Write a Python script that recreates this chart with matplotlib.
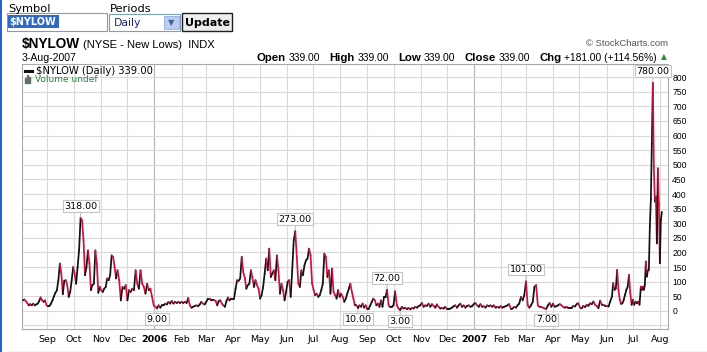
import numpy as np
import pandas as pd
import matplotlib
matplotlib.use('Agg')
import matplotlib.pyplot as plt
import matplotlib.dates as mdates
from matplotlib.collections import LineCollection
from matplotlib.patches import Rectangle

W, H = 707, 352

# $NYLOW daily closes
seg_dates = ['2005-08-04', '2005-11-20', '2006-03-05', '2006-06-16', '2006-09-27',
             '2007-01-08', '2007-04-22', '2007-06-07', '2007-07-10', '2007-08-03']
aug05 = [36, 39, 33, 27, 19, 23, 19, 25, 19, 22, 25, 33, 46, 36, 31, 36, 19, 16, 17, 25,
         36, 50, 62, 71, 105, 162, 128, 57, 103, 105, 88, 48, 65, 105, 150, 128, 93, 150, 207, 318,
         310, 242, 122, 150, 207, 162, 71, 88, 93, 207, 162, 62, 82, 71, 65, 76, 82, 111, 105, 122,
         190, 185, 150, 111]
nov05 = [139, 105, 36, 82, 76, 88, 36, 71, 65, 76, 71, 139, 93, 76, 139, 93, 82, 59, 93, 71,
         76, 48, 19, 14, 9, 19, 11, 19, 19, 25, 22, 31, 25, 34, 25, 31, 27, 31, 27, 31,
         27, 31, 27, 44, 19, 11, 14, 17, 19, 16, 22, 31, 25, 22, 31, 42]
mar06 = [42, 36, 36, 36, 34, 19, 34, 36, 25, 19, 14, 33, 46, 36, 42, 42, 42, 76, 105, 103,
         111, 185, 133, 114, 76, 88, 93, 139, 114, 82, 105, 88, 76, 42, 54, 82, 128, 179, 139, 213,
         116, 128, 139, 105, 190, 139, 59, 93, 71, 36, 65, 99, 105, 48, 139, 242, 273, 185, 93]
jun06 = [82, 139, 122, 156, 173, 179, 213, 190, 93, 71, 54, 59, 48, 54, 71, 93, 196, 185, 116, 139,
         59, 145, 65, 54, 42, 71, 48, 59, 48, 31, 42, 59, 76, 93, 65, 42, 19, 19, 10, 19,
         14, 25, 11, 19, 8, 8, 19, 31, 42, 36, 19, 25, 14, 36, 14, 48, 48, 72, 19]
sep06 = [14, 14, 19, 67, 19, 8, 3, 14, 8, 11, 6, 10, 5, 10, 8, 14, 11, 16, 19, 27,
         14, 19, 17, 25, 14, 23, 17, 11, 22, 14, 8, 10, 8, 14, 6, 6, 8, 11, 16, 19,
         11, 19, 25, 14, 19, 11, 17, 19, 14, 16, 23, 27, 19, 14]
jan07 = [23, 14, 16, 11, 19, 16, 19, 14, 19, 11, 14, 11, 16, 11, 14, 16, 19, 23, 8, 8,
         14, 11, 19, 25, 48, 36, 54, 101, 19, 11, 19, 31, 82, 88, 19, 14, 14, 11, 8, 7,
         19, 27, 14, 25, 14, 16, 19, 23, 19, 14, 11, 14, 11, 11]
apr07 = [11, 17, 15, 23, 26, 11, 9, 17, 13, 21, 17, 26, 23, 32, 21, 17, 9, 35, 21, 21,
         17, 17, 15, 32]
jun07 = [49, 95, 72, 77, 140, 72, 38, 24, 26, 38, 55, 72, 83, 123, 60, 21, 38, 21, 32, 26,
         32, 21]
jul07 = [83, 72, 83, 72, 89, 169, 117, 138, 140, 288, 380, 573, 780, 493, 374, 391, 231, 488,
         368, 163, 311, 339]

peak_labels = [318, 273, 72, 101, 780]
low_labels = [9, 10, 3, 7]

month_names = ['Jan', 'Feb', 'Mar', 'Apr', 'May', 'Jun', 'Jul', 'Aug', 'Sep', 'Oct', 'Nov', 'Dec']

segs = [aug05, nov05, mar06, jun06, sep06, jan07, apr07, jun07, jul07]
dates, vals = [], []
for i, s in enumerate(segs):
    last = i == len(segs) - 1
    d = pd.date_range(seg_dates[i], seg_dates[i + 1], periods=len(s) + (0 if last else 1))
    if not last:
        d = d[:-1]
    dates.extend(d)
    vals.extend(s)
x = mdates.date2num(pd.DatetimeIndex(dates).to_pydatetime())
vals = np.array(vals, dtype=float)

fig = plt.figure(figsize=(W / 100, H / 100), dpi=100)
fig.patch.set_facecolor('white')

def fx(px):
    return px / W

def fy(py):
    return 1 - py / H

ax = fig.add_axes([fx(22), fy(329), fx(668) - fx(22), fy(64) - fy(329)])
ax.set_ylim(-62, 845)
ax.set_xlim(mdates.datestr2num('2005-08-03'), mdates.datestr2num('2007-08-10'))

# grid
month_ticks = pd.date_range('2005-09-01', '2007-08-01', freq='MS')
for m in month_ticks:
    c = '#b4b4b4' if m.month == 1 else '#dadada'
    ax.axvline(mdates.date2num(m.to_pydatetime()), color=c, lw=0.8, zorder=0)
for v in range(-50, 801, 50):
    ax.axhline(v, color='#dadada', lw=0.8, zorder=0)

# price line, black when up, red when down
pts = np.column_stack([x, vals])
lines = np.stack([pts[:-1], pts[1:]], axis=1)
cols = ['#111111' if vals[i + 1] >= vals[i] else '#d01040' for i in range(len(vals) - 1)]
ax.add_collection(LineCollection(lines, colors=cols, linewidths=1.25, zorder=3,
                                 capstyle='round', joinstyle='round'))

# labels on highs and lows
box = dict(boxstyle='square,pad=0.15', fc='white', ec='#c4c4c4', lw=0.8)
for v in peak_labels:
    i = list(vals).index(v)
    ax.annotate('%.2f' % v, (x[i], vals[i]), xytext=(0, 8.5), textcoords='offset points',
                ha='center', va='center', fontsize=6.8, bbox=box, zorder=5,
                arrowprops=dict(arrowstyle='-', color='#c4c4c4', lw=0.8, shrinkA=0, shrinkB=1))
for v in low_labels:
    i = list(vals).index(v)
    ax.annotate('%.2f' % v, (x[i], vals[i]), xytext=(0, -8), textcoords='offset points',
                ha='center', va='center', fontsize=6.8, bbox=box, zorder=5,
                arrowprops=dict(arrowstyle='-', color='#c4c4c4', lw=0.8, shrinkA=0, shrinkB=1))

# axes
ax.set_xticks(mdates.date2num(month_ticks.to_pydatetime()))
ax.set_xticklabels([str(m.year) if m.month == 1 else month_names[m.month - 1] for m in month_ticks],
                   fontsize=6.8)
for lab, m in zip(ax.get_xticklabels(), month_ticks):
    if m.month == 1:
        lab.set_fontweight('bold')
ax.yaxis.tick_right()
ax.set_yticks(range(0, 801, 50))
ax.set_yticklabels([str(v) for v in range(0, 801, 50)], family='Liberation Sans', fontsize=6.2)
ax.tick_params(length=0)
ax.tick_params(axis='x', pad=4)
ax.tick_params(axis='y', pad=3)
for sp in ax.spines.values():
    sp.set_color('#a8a8a8')
    sp.set_linewidth(0.8)

# legend inside plot
ax.plot([0.005, 0.016], [0.975, 0.975], transform=ax.transAxes, color='#111111', lw=2.2, zorder=6)
ax.text(0.022, 0.975, '$NYLOW (Daily) 339.00', transform=ax.transAxes, fontsize=7.2,
        va='center', ha='left', zorder=6)
for j, hgt in enumerate([0.018, 0.03, 0.022]):
    ax.add_patch(Rectangle((0.005 + j * 0.003, 0.928), 0.002, hgt, transform=ax.transAxes,
                           color='#607060', zorder=6))
ax.text(0.02, 0.94, 'Volume undef', transform=ax.transAxes, fontsize=6.5, color='#1a8a3a',
        va='center', ha='left', zorder=6)

# page header: form controls
fig.text(fx(8), fy(9), 'Symbol', fontsize=8.2, va='center', ha='left')
fig.text(fx(110), fy(9), 'Periods', fontsize=8.2, va='center', ha='left')
fig.add_artist(Rectangle((fx(7), fy(31)), fx(100), fy(13) - fy(31), transform=fig.transFigure,
                         fc='white', ec='#7f9db9', lw=0.8))
fig.add_artist(Rectangle((fx(8), fy(28)), fx(51), fy(15) - fy(28), transform=fig.transFigure,
                         fc='#316ac5', ec='none'))
fig.text(fx(9), fy(22), '$NYLOW', fontsize=7.0, fontweight='bold', color='white', va='center')
fig.add_artist(Rectangle((fx(109), fy(31)), fx(71), fy(14) - fy(31), transform=fig.transFigure,
                         fc='white', ec='#7f9db9', lw=0.8))
fig.text(fx(114), fy(23), 'Daily', fontsize=7.8, color='#1a2a6a', va='center')
fig.add_artist(Rectangle((fx(164), fy(29)), fx(15), fy(16) - fy(29), transform=fig.transFigure,
                         fc='#b8ccf4', ec='#98b0e0', lw=0.6))
fig.text(fx(171.5), fy(22.5), '\u25bc', fontsize=6, color='#4d6185', ha='center', va='center')
fig.add_artist(Rectangle((fx(182), fy(31)), fx(50), fy(13) - fy(31), transform=fig.transFigure,
                         fc='#eeeeee', ec='#202020', lw=1.0))
fig.text(fx(207), fy(22.5), 'Update', fontsize=8, fontweight='bold', ha='center', va='center')

# title lines
t1 = fig.text(fx(22), fy(44), '$NYLOW', family='Liberation Sans', fontsize=9.8,
              fontweight='bold', va='center')
fig.canvas.draw()
r = fig.canvas.get_renderer()
w1 = t1.get_window_extent(r).width
fig.text(fx(22 + w1 + 3), fy(44.5), '(NYSE - New Lows)  INDX', family='Liberation Sans',
         fontsize=8, va='center')
fig.text(fx(22), fy(58), '3-Aug-2007', family='Liberation Sans', fontsize=7.6, va='center')
fig.text(fx(668), fy(44), '\u00a9 StockCharts.com', family='Liberation Sans', fontsize=6.8,
         color='#555555', ha='right', va='center')

pieces = [('Open', True), ('339.00', False), ('High', True), ('339.00', False),
          ('Low', True), ('339.00', False), ('Close', True), ('339.00', False),
          ('Chg', True), ('+181.00 (+114.56%)', False)]
gaps = [3, 9, 3, 9, 3, 9, 3, 9, 3, 0]
texts = []
for s, b in pieces:
    t = fig.text(0, fy(58), s, family='Liberation Sans', fontsize=8.2 if b else 7.4,
                 fontweight='bold' if b else 'normal', va='center', ha='left')
    texts.append(t)
widths = [t.get_window_extent(r).width for t in texts]
total = sum(widths) + sum(gaps)
pos = 657 - total
for t, wd, g in zip(texts, widths, gaps):
    t.set_x(fx(pos))
    pos += wd + g
fig.text(fx(664), fy(57), '\u25b2', fontsize=5.5, color='#2a8a3a', ha='center', va='center')

# page frame bits
fig.add_artist(Rectangle((0, 0), fx(2), 1, transform=fig.transFigure, fc='#2a5fd8', ec='none'))
fig.add_artist(plt.Line2D([fx(8), 1], [fy(351.5), fy(351.5)], transform=fig.transFigure,
                          color='#c8c8c8', lw=1))

fig.savefig('out.png', dpi=100)
